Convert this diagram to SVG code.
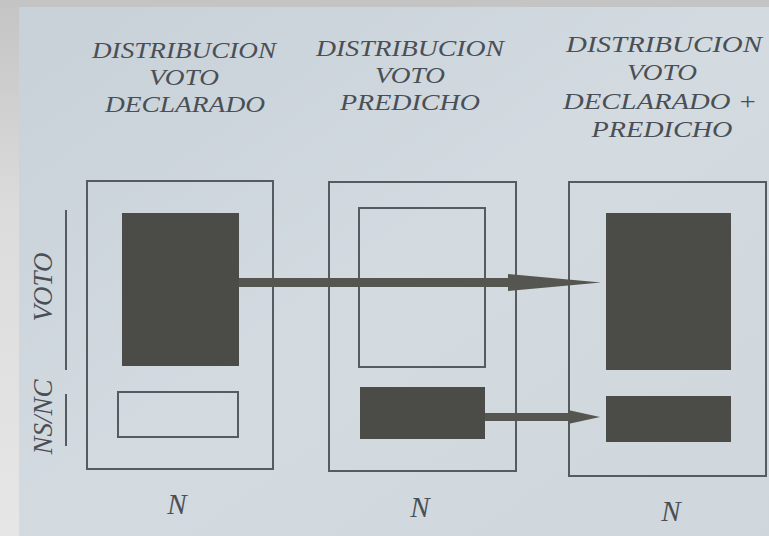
<svg xmlns="http://www.w3.org/2000/svg" width="769" height="536" viewBox="0 0 769 536">
<defs>
<linearGradient id="page" x1="0" y1="0" x2="1" y2="1">
<stop offset="0" stop-color="#c8d0d8"/>
<stop offset="0.5" stop-color="#d3dbe1"/>
<stop offset="1" stop-color="#cfd7dd"/>
</linearGradient>
<linearGradient id="strip" x1="0" y1="0" x2="0" y2="1">
<stop offset="0" stop-color="#c4c4c4"/>
<stop offset="0.4" stop-color="#dcdcdc"/>
<stop offset="1" stop-color="#e6e6e6"/>
</linearGradient>
<style>
.t{font-family:"Liberation Serif","Times New Roman",serif;font-style:italic;font-size:27px;fill:#4a4f55;text-anchor:middle}
.h{font-size:24px}
.n{font-size:29px}
.frame{fill:none;stroke:#565b5f;stroke-width:2}
.hollow{fill:none;stroke:#565b5f;stroke-width:2}
.dark{fill:#4b4c48}
.axis{stroke:#565b5f;stroke-width:2}
.arrow{fill:#55564f}
</style>
</defs>
<rect x="0" y="0" width="769" height="536" fill="#c4c4c4"/>
<rect x="0" y="0" width="19" height="536" fill="url(#strip)"/>
<rect x="19" y="7" width="750" height="529" fill="url(#page)"/>

<g id="axis-labels">
<line class="axis" x1="66" y1="210" x2="66" y2="370"/>
<line class="axis" x1="66" y1="394" x2="66" y2="446"/>
<text class="t" transform="translate(52,287) rotate(-90)">VOTO</text>
<text class="t" transform="translate(52,417) rotate(-90)">NS/NC</text>
</g>

<g id="col1-declarado">
<text class="t h" x="184" y="58" textLength="184" lengthAdjust="spacingAndGlyphs">DISTRIBUCION</text>
<text class="t h" x="184" y="85" textLength="70" lengthAdjust="spacingAndGlyphs">VOTO</text>
<text class="t h" x="185" y="112" textLength="160" lengthAdjust="spacingAndGlyphs">DECLARADO</text>
<rect class="frame" x="87" y="181" width="186" height="288"/>
<rect class="dark" x="122" y="213" width="117" height="153"/>
<rect class="hollow" x="118" y="392" width="120" height="45"/>
<text class="t n" x="177" y="514">N</text>
</g>

<g id="col2-predicho">
<text class="t h" x="410" y="56" textLength="188" lengthAdjust="spacingAndGlyphs">DISTRIBUCION</text>
<text class="t h" x="410" y="83" textLength="70" lengthAdjust="spacingAndGlyphs">VOTO</text>
<text class="t h" x="410" y="110" textLength="140" lengthAdjust="spacingAndGlyphs">PREDICHO</text>
<rect class="frame" x="329" y="182" width="187" height="289"/>
<rect class="hollow" x="359" y="208" width="126" height="159"/>
<rect class="dark" x="360" y="387" width="125" height="52"/>
<text class="t n" x="420" y="517">N</text>
</g>

<g id="col3-declarado-predicho">
<text class="t h" x="664" y="52" textLength="196" lengthAdjust="spacingAndGlyphs">DISTRIBUCION</text>
<text class="t h" x="662" y="80" textLength="70" lengthAdjust="spacingAndGlyphs">VOTO</text>
<text class="t h" x="660" y="109" textLength="194" lengthAdjust="spacingAndGlyphs">DECLARADO +</text>
<text class="t h" x="662" y="137" textLength="141" lengthAdjust="spacingAndGlyphs">PREDICHO</text>
<rect class="frame" x="569" y="182" width="197" height="294"/>
<rect class="dark" x="606" y="213" width="125" height="157"/>
<rect class="dark" x="606" y="396" width="125" height="46"/>
<text class="t n" x="671" y="521">N</text>
</g>

<g id="connectors">
<path class="arrow" d="M239,278 L508,278 L508,274 L601,282.5 L508,291 L508,287 L239,287 Z"/>
<path class="arrow" d="M485,413 L568,413 L568,410 L600,417 L568,424 L568,421 L485,421 Z"/>
</g>
</svg>
